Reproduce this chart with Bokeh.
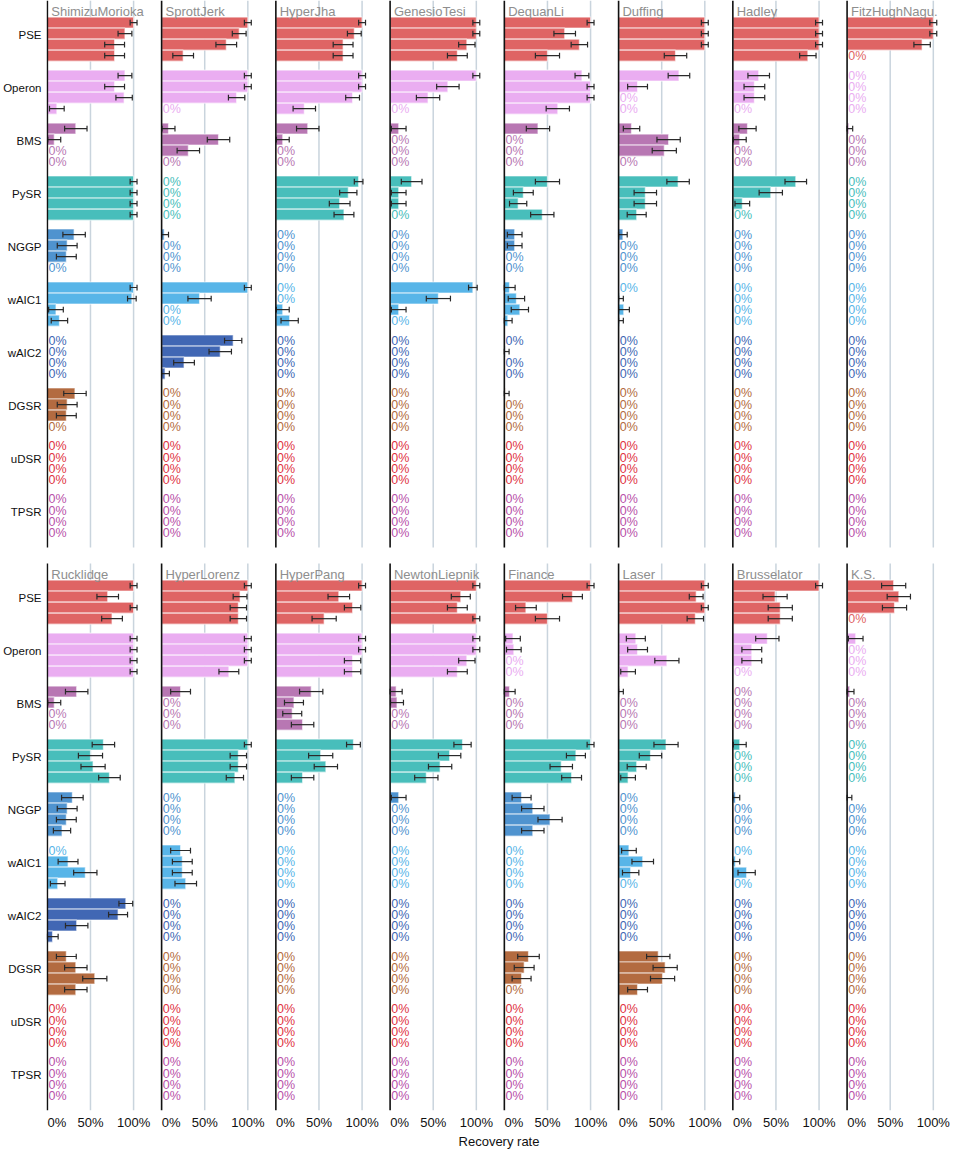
from bokeh.plotting import figure
from bokeh.models import Range1d, FixedTicker, ColumnDataSource
from bokeh.embed import file_html
from bokeh.resources import INLINE
from bokeh.core.properties import value

# ---------------- data ----------------
SYSTEMS = ["ShimizuMorioka", "SprottJerk", "HyperJha", "GenesioTesi", "DequanLi",
           "Duffing", "Hadley", "FitzHughNagu.",
           "Rucklidge", "HyperLorenz", "HyperPang", "NewtonLiepnik", "Finance",
           "Laser", "Brusselator", "K.S."]
METHODS = ["PSE", "Operon", "BMS", "PySR", "NGGP", "wAIC1", "wAIC2", "DGSR", "uDSR", "TPSR"]
BAR_COLORS = ["#DF6464", "#EAADF1", "#B877B3", "#48BEBB", "#4F93CF",
              "#58B5E8", "#4167B4", "#B36B40", "#E0323F", "#B84FA9"]
X_TICK_VALUES = [0, 50, 100]
X_TICK_LABELS = ["0%", "50%", "100%"]
X_LABEL = "Recovery rate"

# recovery rate per system (16 rows) x noise level (4 bars)
PSE = [[1.0, .90, .78, .78], [1.0, .90, .75, .25], [1.0, .91, .78, .78], [1.0, 1.0, .89, .78],
       [1.0, .70, .87, .50], [1.0, 1.0, 1.0, .66], [1.0, 1.0, 1.0, .87], [1.0, 1.0, .87, 0],
       [1.0, .70, 1.0, .75], [1.0, .91, .89, .89], [1.0, .73, .89, .56], [1.0, .82, .78, 1.0],
       [1.0, .79, .25, .50], [1.0, .90, 1.0, .89], [1.0, .49, .55, .55], [.54, .60, .55, 0]]
OPERON = [[.90, .78, .89, .11], [1.0, 1.0, .87, 0], [1.0, 1.0, .89, .33], [1.0, .67, .44, 0],
          [.90, 1.0, 1.0, .62], [.70, .22, 0, 0], [.30, .25, .25, 0], [0, 0, 0, 0],
          [1.0, 1.0, 1.0, 1.0], [1.0, 1.0, 1.0, .78], [1.0, 1.0, .89, .89], [1.0, 1.0, .89, .78],
          [.10, .11, 0, 0], [.20, .22, .56, .11], [.40, .22, .22, 0], [.10, 0, 0, 0]]
BMS = [[.33, .08, 0, 0], [.08, .66, .31, 0], [.37, .08, 0, 0], [.10, 0, 0, 0],
       [.39, 0, 0, 0], [.15, .58, .53, 0], [.17, .08, 0, 0], [.02, 0, 0, 0],
       [.34, .08, 0, 0], [.22, 0, 0, 0], [.41, .21, .19, .31], [.07, .08, 0, 0],
       [.06, 0, 0, 0], [.01, 0, 0, 0], [0, 0, 0, 0], [.03, 0, 0, 0]]
PYSR = [[1.0, 1.0, 1.0, 1.0], [0, 0, 0, 0], [.96, .84, .74, .79], [.25, .10, .10, 0],
        [.50, .22, .16, .44], [.69, .31, .31, .21], [.73, .44, .11, 0], [0, 0, 0, 0],
        [.65, .50, .53, .72], [1.0, .89, .89, .85], [.90, .52, .58, .31], [.84, .69, .58, .42],
        [1.0, .83, .66, .78], [.55, .37, .21, .11], [.08, 0, 0, 0], [0, 0, 0, 0]]
NGGP = [[.31, .23, .22, 0], [.03, 0, 0, 0], [0, 0, 0, 0], [0, 0, 0, 0],
        [.12, .12, 0, 0], [.05, 0, 0, 0], [0, 0, 0, 0], [0, 0, 0, 0],
        [.29, .23, .22, .17], [0, 0, 0, 0], [0, 0, 0, 0], [.10, 0, 0, 0],
        [.20, .33, .53, .33], [0, 0, 0, 0], [.03, 0, 0, 0], [.01, 0, 0, 0]]
WAIC1 = [[1.0, .98, .10, .14], [1.0, .44, 0, 0], [0, 0, .08, .16], [.96, .56, .10, 0],
         [.06, .14, .18, .04], [0, .01, .06, .01], [0, 0, 0, 0], [0, 0, 0, 0],
         [0, .24, .44, .12], [.22, .24, .24, .28], [0, 0, 0, 0], [0, 0, 0, 0],
         [0, 0, 0, 0], [.12, .28, .14, 0], [0, .03, .16, 0], [0, 0, 0, 0]]
WAIC2 = [[0, 0, 0, 0], [.83, .68, .26, .04], [0, 0, 0, 0], [0, 0, 0, 0],
         [0, .01, 0, 0], [0, 0, 0, 0], [0, 0, 0, 0], [0, 0, 0, 0],
         [.91, .82, .34, .06], [0, 0, 0, 0], [0, 0, 0, 0], [0, 0, 0, 0],
         [0, 0, 0, 0], [0, 0, 0, 0], [0, 0, 0, 0], [0, 0, 0, 0]]
DGSR = [[.32, .23, .22, 0], [0, 0, 0, 0], [0, 0, 0, 0], [0, 0, 0, 0],
        [.01, 0, 0, 0], [0, 0, 0, 0], [0, 0, 0, 0], [0, 0, 0, 0],
        [.22, .33, .55, .33], [0, 0, 0, 0], [0, 0, 0, 0], [0, 0, 0, 0],
        [.28, .23, .20, 0], [.46, .54, .51, .22], [0, 0, 0, 0], [0, 0, 0, 0]]
UDSR = [[0, 0, 0, 0]] * 16
TPSR = [[0, 0, 0, 0]] * 16

# half-width of the error bars
PSE_ERR = [[.04, .08, .115, .115], [.04, .08, .12, .12], [.04, .08, .115, .115], [.04, .04, .095, .115],
           [.04, .125, .095, .14], [.04, .04, .04, .13], [.04, .04, .04, .095], [.04, .04, .095, 0],
           [.04, .125, .04, .12], [.04, .08, .095, .095], [.04, .125, .095, .14], [.04, .11, .115, .04],
           [.04, .115, .12, .14], [.04, .08, .04, .095], [.04, .14, .14, .14], [.14, .135, .14, 0]]
OPERON_ERR = [[.08, .115, .095, .085], [.04, .04, .095, 0], [.04, .04, .08, .13], [.04, .13, .135, 0],
              [.08, .04, .04, .135], [.125, .115, 0, 0], [.125, .12, .12, 0], [0, 0, 0, 0],
              [.04, .04, .04, .04], [.04, .04, .04, .115], [.04, .04, .095, .095], [.04, .04, .095, .115],
              [.085, .085, 0, 0], [.11, .115, .14, .085], [.135, .115, .115, 0], [.085, 0, 0, 0]]
BMS_ERR = [[.13, .075, 0, 0], [.075, .13, .13, 0], [.13, .075, 0, 0], [.085, 0, 0, 0],
           [.135, 0, 0, 0], [.095, .135, .14, 0], [.10, .075, 0, 0], [.045, 0, 0, 0],
           [.13, .075, 0, 0], [.115, 0, 0, 0], [.135, .11, .11, .13], [.07, .075, 0, 0],
           [.065, 0, 0, 0], [.045, 0, 0, 0], [0, 0, 0, 0], [.05, 0, 0, 0]]
PYSR_ERR = [[.04, .04, .04, .04], [0, 0, 0, 0], [.05, .10, .12, .115], [.12, .085, .085, 0],
            [.14, .115, .10, .135], [.13, .13, .13, .11], [.125, .135, .085, 0], [0, 0, 0, 0],
            [.13, .14, .14, .125], [.04, .095, .095, .10], [.08, .14, .135, .13], [.10, .13, .135, .135],
            [.04, .11, .13, .115], [.14, .13, .11, .085], [.075, 0, 0, 0], [0, 0, 0, 0]]
NGGP_ERR = [[.13, .115, .115, 0], [.05, 0, 0, 0], [0, 0, 0, 0], [0, 0, 0, 0],
            [.085, .085, 0, 0], [.05, 0, 0, 0], [0, 0, 0, 0], [0, 0, 0, 0],
            [.125, .115, .115, .10], [0, 0, 0, 0], [0, 0, 0, 0], [.085, 0, 0, 0],
            [.11, .13, .14, .13], [0, 0, 0, 0], [.05, 0, 0, 0], [.045, 0, 0, 0]]
WAIC1_ERR = [[.04, .05, .085, .095], [.04, .135, 0, 0], [0, 0, .075, .10], [.05, .14, .085, 0],
             [.065, .095, .10, .05], [0, .045, .065, .045], [0, 0, 0, 0], [0, 0, 0, 0],
             [0, .115, .135, .085], [.115, .115, .115, .125], [0, 0, 0, 0], [0, 0, 0, 0],
             [0, 0, 0, 0], [.085, .125, .095, 0], [0, .05, .10, 0], [0, 0, 0, 0]]
WAIC2_ERR = [[0, 0, 0, 0], [.10, .13, .12, .05], [0, 0, 0, 0], [0, 0, 0, 0],
             [0, .045, 0, 0], [0, 0, 0, 0], [0, 0, 0, 0], [0, 0, 0, 0],
             [.08, .11, .13, .065], [0, 0, 0, 0], [0, 0, 0, 0], [0, 0, 0, 0],
             [0, 0, 0, 0], [0, 0, 0, 0], [0, 0, 0, 0], [0, 0, 0, 0]]
DGSR_ERR = [[.13, .115, .115, 0], [0, 0, 0, 0], [0, 0, 0, 0], [0, 0, 0, 0],
            [.045, 0, 0, 0], [0, 0, 0, 0], [0, 0, 0, 0], [0, 0, 0, 0],
            [.115, .13, .14, .13], [0, 0, 0, 0], [0, 0, 0, 0], [0, 0, 0, 0],
            [.125, .115, .11, 0], [.135, .14, .14, .115], [0, 0, 0, 0], [0, 0, 0, 0]]
UDSR_ERR = [[0, 0, 0, 0]] * 16
TPSR_ERR = [[0, 0, 0, 0]] * 16

VALUES = dict(zip(METHODS, [PSE, OPERON, BMS, PYSR, NGGP, WAIC1, WAIC2, DGSR, UDSR, TPSR]))
ERRORS = dict(zip(METHODS, [PSE_ERR, OPERON_ERR, BMS_ERR, PYSR_ERR, NGGP_ERR,
                            WAIC1_ERR, WAIC2_ERR, DGSR_ERR, UDSR_ERR, TPSR_ERR]))

# ---------------- layout constants ----------------
PANEL_DX = 132.5     # horizontal distance between panels (percent units)
ROW_DY = 510         # vertical distance between the two rows
GROUP_DY = 48
BAR_DY = 10
NCOL = 8
Y_TOP, Y_BOT = -20, 985.5
ROW_SPANS = [(-20, 475.5), (490, 985.5)]
FONT = "Liberation Sans"

bars = dict(y=[], left=[], right=[], color=[])
errs = dict(x0=[], x1=[], y=[])
caps = dict(x=[], y0=[], y1=[])
zeros = dict(x=[], y=[], color=[])
titles = dict(x=[], y=[], text=[])
axes_l = dict(x=[], y0=[], y1=[])
grid_l = dict(x=[], y0=[], y1=[])

for s, name in enumerate(SYSTEMS):
    col, row = s % NCOL, s // NCOL
    x0 = col * PANEL_DX
    yb = row * ROW_DY
    titles["x"].append(x0 + 4.5)
    titles["y"].append(yb - 10)
    titles["text"].append(name)
    r0, r1 = ROW_SPANS[row]
    axes_l["x"].append(x0); axes_l["y0"].append(r0); axes_l["y1"].append(r1)
    for g in (50, 100):
        grid_l["x"].append(x0 + g); grid_l["y0"].append(r0); grid_l["y1"].append(r1)
    for gi, m in enumerate(METHODS):
        for j in range(4):
            v = VALUES[m][s][j] * 100
            e = ERRORS[m][s][j] * 100
            y = yb + gi * GROUP_DY + j * BAR_DY
            if v > 0:
                bars["y"].append(y); bars["left"].append(x0)
                bars["right"].append(x0 + v); bars["color"].append(BAR_COLORS[gi])
                lo, hi = x0 + max(0.0, v - e), x0 + v + e
                errs["x0"].append(lo); errs["x1"].append(hi); errs["y"].append(y)
                for xx in (lo, hi):
                    caps["x"].append(xx); caps["y0"].append(y - 2.6); caps["y1"].append(y + 2.6)
            else:
                zeros["x"].append(x0 + 1.3); zeros["y"].append(y)
                zeros["color"].append(BAR_COLORS[gi])

p = figure(width=951, height=1151, output_backend="svg", toolbar_location=None,
           x_range=Range1d(-1, 1048.6), y_range=Range1d(Y_BOT, Y_TOP),
           min_border_left=42, min_border_right=0, min_border_top=0, min_border_bottom=0)
p.outline_line_color = None
p.xgrid.visible = False
p.ygrid.visible = False

p.segment(x0="x", y0="y0", x1="x", y1="y1", source=ColumnDataSource(grid_l),
          line_color="#C9D4DD", line_width=1.5)
p.hbar(y="y", left="left", right="right", height=BAR_DY, fill_color="color",
       line_color="white", line_alpha=0.6, line_width=1.2, source=ColumnDataSource(bars))
p.segment(x0="x0", y0="y", x1="x1", y1="y", source=ColumnDataSource(errs),
          line_color="#2a2a2a", line_width=1.2)
p.segment(x0="x", y0="y0", x1="x", y1="y1", source=ColumnDataSource(caps),
          line_color="#2a2a2a", line_width=1.2)
p.segment(x0="x", y0="y0", x1="x", y1="y1", source=ColumnDataSource(axes_l),
          line_color="#111111", line_width=1.6)
p.text(x="x", y="y", text=value("0%"), text_color="color", source=ColumnDataSource(zeros),
       text_font=value(FONT), text_font_size="12.5px", text_baseline="middle", text_align="left")
p.text(x="x", y="y", text="text", source=ColumnDataSource(titles), text_color="#8E8E8E",
       text_font=value(FONT), text_font_size="13px", text_baseline="alphabetic", text_align="left")

# x axis: tick labels per panel
xt, xo = [], {}
LABEL_SHIFT = {0: 11.0, 50: 0.0, 100: 0.0}
for col in range(NCOL):
    for tv, tl in zip(X_TICK_VALUES, X_TICK_LABELS):
        pos = col * PANEL_DX + tv + LABEL_SHIFT[tv]
        xt.append(pos); xo[pos] = tl
p.xaxis.ticker = FixedTicker(ticks=xt)
p.xaxis.major_label_overrides = xo
p.xaxis.axis_label = X_LABEL
p.xaxis.axis_line_color = None
p.xaxis.major_tick_line_color = None
p.xaxis.minor_tick_line_color = None
p.xaxis.major_tick_in = 0
p.xaxis.major_tick_out = 0
p.xaxis.minor_tick_out = 0
p.xaxis.major_label_standoff = 4
p.xaxis.axis_label_standoff = 1
p.xaxis.major_label_text_font = FONT
p.xaxis.major_label_text_font_size = "13px"
p.xaxis.major_label_text_color = "#111111"
p.xaxis.axis_label_text_font = FONT
p.xaxis.axis_label_text_font_size = "13px"
p.xaxis.axis_label_text_font_style = "normal"
p.xaxis.axis_label_text_color = "#111111"

# y axis: method names for both rows
yt, yo = [], {}
for row in range(2):
    for gi, m in enumerate(METHODS):
        pos = row * ROW_DY + gi * GROUP_DY + 11.5
        yt.append(pos); yo[pos] = m
p.yaxis.ticker = FixedTicker(ticks=yt)
p.yaxis.major_label_overrides = yo
p.yaxis.axis_line_color = None
p.yaxis.major_tick_line_color = None
p.yaxis.minor_tick_line_color = None
p.yaxis.major_tick_in = 0
p.yaxis.major_tick_out = 0
p.yaxis.minor_tick_out = 0
p.yaxis.major_label_standoff = 5
p.yaxis.major_label_text_font = FONT
p.yaxis.major_label_text_font_size = "11.5px"
p.yaxis.major_label_text_color = "#111111"

open("out.html", "w").write(file_html(p, INLINE))
